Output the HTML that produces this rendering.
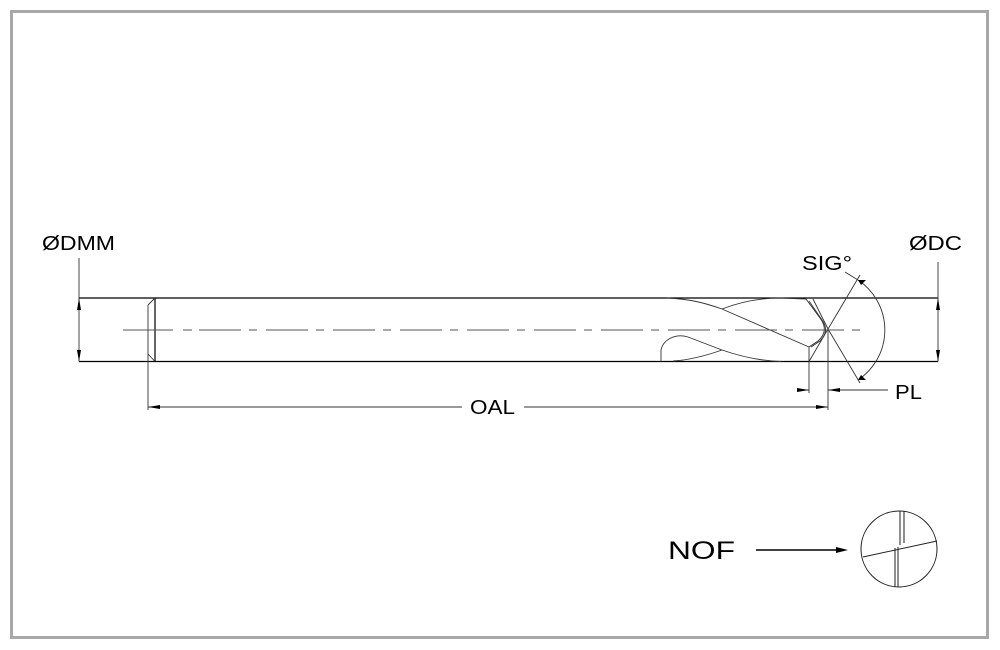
<!DOCTYPE html>
<html><head><meta charset="utf-8"><style>
html,body{margin:0;padding:0;background:#fff;}
svg{display:block;}
text{font-family:"Liberation Sans",Arial,sans-serif;fill:#000;}
</style></head><body>
<svg width="1000" height="650" viewBox="0 0 1000 650" xmlns="http://www.w3.org/2000/svg">
<rect x="0" y="0" width="1000" height="650" fill="#fff"/>
<rect x="11.5" y="11.5" width="976" height="626" fill="none" stroke="#a8a8a8" stroke-width="3"/>

<g stroke="#000" stroke-width="1.2" fill="none">
<line x1="79" y1="298" x2="808" y2="298"/>
<line x1="79" y1="361.5" x2="809" y2="361.5"/>
<line x1="808" y1="298" x2="938" y2="298"/>
<line x1="809" y1="361.5" x2="938" y2="361.5"/>
<line x1="155" y1="298" x2="155" y2="361.5"/>
</g>
<g stroke="#333" stroke-width="0.9" fill="none">
<line x1="155" y1="298" x2="148" y2="305"/>
<line x1="155" y1="361.5" x2="148" y2="354"/>
<line x1="148" y1="305" x2="148" y2="410"/>
<path d="M667 298 C690 299 705 303 722 309 L809 347"/>
<path d="M722 309 C740 302 760 298 780 298 L806 299"/>
<path d="M661 361.5 L661 350 C663 340 675 333 688 337 L722 350 C745 358 765 361 781 361.5"/>
<path d="M673 361 C690 360 705 356 722 350"/>
<path d="M806 299 L820 318 C826 326 826 334 818 341 L809 347"/>
<path d="M809 301 L822 320 C827 327 827 334 820 341 L811 347"/>
<line x1="809" y1="347" x2="809" y2="393"/>
<line x1="828" y1="329" x2="809" y2="361.5"/>
<line x1="828" y1="329" x2="813" y2="299"/>
<line x1="828" y1="329" x2="828" y2="410"/>
<line x1="828" y1="329" x2="860" y2="275"/>
<line x1="828" y1="329" x2="860" y2="383"/>
<line x1="845" y1="272" x2="858" y2="280"/>
<path d="M858 280 A60 60 0 0 1 858 380"/>
<line x1="79" y1="258" x2="79" y2="361.5"/>
<line x1="938" y1="262" x2="938" y2="361.5"/>
<line x1="148" y1="407" x2="462" y2="407"/>
<line x1="524" y1="407" x2="828" y2="407"/>
<line x1="797" y1="390" x2="809" y2="390"/>
<line x1="828" y1="390" x2="888" y2="390"/>
</g>
<line x1="123" y1="330" x2="860" y2="330" stroke="#555" stroke-width="0.9" stroke-dasharray="50 10 9 7 42 8 8 9 42 8 8 9 42 8 8 9 42 8 8 9 42 8 8 9 42 8 8 9 42 8 8 9 42 8 8 9 42 8 8 9 42 8 8 9 42 8 8 9 42 8 8 9"/>
<g fill="#000">
<polygon points="79,298 77,310 81,310"/>
<polygon points="79,361.5 77,350 81,350"/>
<polygon points="938,298 936,310 940,310"/>
<polygon points="938,361.5 936,350 940,350"/>
<polygon points="148,407 160,405 160,409"/>
<polygon points="828,407 816,405 816,409"/>
<polygon points="809,390 797,388 797,392"/>
<polygon points="828,390 840,388 840,392"/>
<polygon points="858,280 866,280 861,285" />
<polygon points="858,380 866,380 861,375"/>
<polygon points="848,550 836,547 836,553"/>
</g>
<line x1="756" y1="550" x2="838" y2="550" stroke="#000" stroke-width="1.5"/>
<g stroke="#222" stroke-width="1" fill="none">
<circle cx="899" cy="549" r="38"/>
<line x1="900" y1="511" x2="900" y2="545"/>
<line x1="904" y1="511" x2="904" y2="543"/>
<line x1="863" y1="557" x2="937" y2="541"/>
<line x1="895" y1="548" x2="895" y2="587"/>
<line x1="898" y1="547" x2="898" y2="587"/>
</g>
<text x="42" y="250" font-size="20" textLength="73" lengthAdjust="spacingAndGlyphs">ØDMM</text>
<text x="909" y="250" font-size="20" textLength="53" lengthAdjust="spacingAndGlyphs">ØDC</text>
<text x="802" y="270" font-size="20" textLength="50" lengthAdjust="spacingAndGlyphs">SIG°</text>
<text x="895" y="399" font-size="20" textLength="27" lengthAdjust="spacingAndGlyphs">PL</text>
<text x="470" y="414" font-size="20" textLength="45" lengthAdjust="spacingAndGlyphs">OAL</text>
<text x="668" y="559" font-size="25" textLength="67" lengthAdjust="spacingAndGlyphs">NOF</text>
</svg>
</body></html>
